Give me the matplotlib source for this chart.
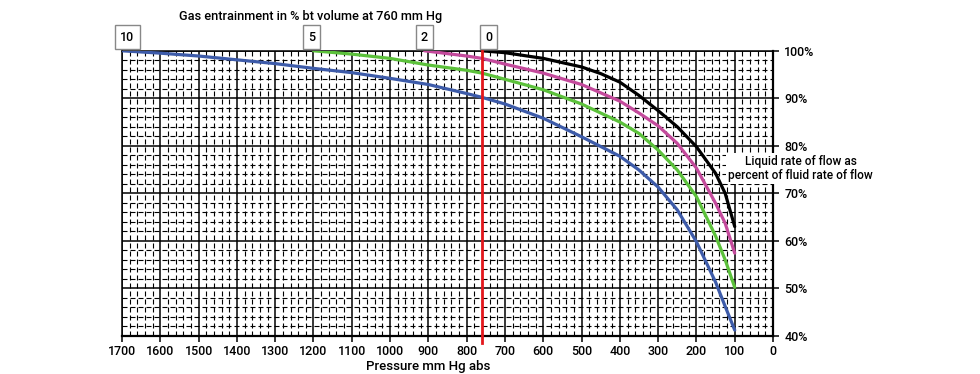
import matplotlib.pyplot as plt
from matplotlib.ticker import MultipleLocator, FuncFormatter

plt.rcParams['font.family'] = ['Roboto', 'Liberation Sans', 'DejaVu Sans']
plt.rcParams['font.weight'] = 'medium'

## Data (pressure mm Hg abs -> liquid % of fluid flow)
p_10 = [1700, 1600, 1500, 1400, 1300, 1200, 1100, 1000, 900, 800, 760, 700, 600, 500,
        400, 350, 300, 250, 200, 150, 125, 100]
l_10 = [100, 99.5, 98.9, 98.1, 97.3, 96.3, 95.4, 94.2, 92.9, 91.0, 90.2, 88.8, 85.8, 81.9,
        77.8, 74.9, 71.3, 66.5, 59.8, 51.3, 46.2, 41.2]

p_5 = [1200, 1100, 1000, 900, 800, 760, 700, 600, 500, 400, 350, 300, 250, 200, 150, 125, 100]
l_5 = [100, 99.3, 98.4, 97.0, 95.9, 95.3, 94.0, 91.8, 88.8, 85.0, 82.6, 79.1, 74.9, 69.3, 61.0, 56.0, 50.2]

p_2 = [910, 800, 760, 700, 600, 500, 400, 350, 300, 250, 200, 150, 125, 100]
l_2 = [100, 98.9, 98.4, 97.2, 95.3, 92.9, 89.4, 86.9, 84.2, 80.5, 75.3, 67.9, 63.7, 57.4]

p_0 = [760, 700, 600, 500, 450, 400, 350, 300, 250, 200, 150, 125, 100]
l_0 = [100, 99.6, 98.4, 96.6, 95.2, 93.4, 90.6, 87.4, 84.0, 79.8, 74.2, 70.0, 63.0]

entrainment = ['10', '5', '2', '0']
label_pos = [1686, 1205, 910, 743]
###

fig = plt.figure(figsize=(9.8, 3.74), dpi=100)
ax = fig.add_axes([0.1245, 0.1021, 0.6643, 0.7621])

ax.set_xlim(1700, 0)
ax.set_ylim(40, 100)

# grid
ax.xaxis.set_major_locator(MultipleLocator(100))
ax.xaxis.set_minor_locator(MultipleLocator(20))
ax.yaxis.set_major_locator(MultipleLocator(10))
ax.yaxis.set_minor_locator(MultipleLocator(2))
ax.grid(which='major', color='black', linewidth=1.1, linestyle='-')
ax.grid(which='minor', color='black', linewidth=0.8, linestyle=(0, (4.5, 2.7)))
ax.set_axisbelow(True)

for s in ax.spines.values():
    s.set_color('black')
    s.set_linewidth(1.1)
ax.spines['right'].set_linewidth(1.6)
ax.spines['bottom'].set_linewidth(1.6)

ax.yaxis.tick_right()
ax.tick_params(which='minor', length=0)
ax.tick_params(which='major', length=4, width=1.1, direction='out', labelsize=9, colors='black', pad=2.5)
ax.tick_params(axis='y', pad=4)
ax.yaxis.set_major_formatter(FuncFormatter(lambda v, pos: '%d%%' % v))

# curves
kw = dict(linewidth=2.3, zorder=3, solid_joinstyle='round', solid_capstyle='round')
ax.plot(p_10, l_10, color='#3d5ba9', **kw)
ax.plot(p_5, l_5, color='#5cc13b', **kw)
ax.plot(p_2, l_2, color='#c44a9c', **kw)
ax.plot(p_0, l_0, color='black', **kw)

# 760 mm Hg reference line
ax.axvline(760, ymin=-0.025, ymax=1.0, color='#e3171c', linewidth=2.0, clip_on=False, zorder=4)

# entrainment boxes along the top
for lab, xp in zip(entrainment, label_pos):
    ax.text(xp, 1.048, lab, transform=ax.get_xaxis_transform(), ha='center', va='center',
            fontsize=9, bbox=dict(boxstyle='square,pad=0.42', fc='white', ec='#888888', lw=1.0))

fig.text(0.317, 0.957, 'Gas entrainment in % bt volume at 760 mm Hg', ha='center', va='center', fontsize=9.2)
fig.text(0.437, 0.019, 'Pressure mm Hg abs', ha='center', va='center', fontsize=9.5)
fig.text(0.817, 0.549, 'Liquid rate of flow as\npercent of fluid rate of flow', ha='center', va='center',
         fontsize=8.6, linespacing=1.1,
         bbox=dict(boxstyle='square,pad=0.15', fc='white', ec='none'))

fig.savefig('out.png', dpi=100)
